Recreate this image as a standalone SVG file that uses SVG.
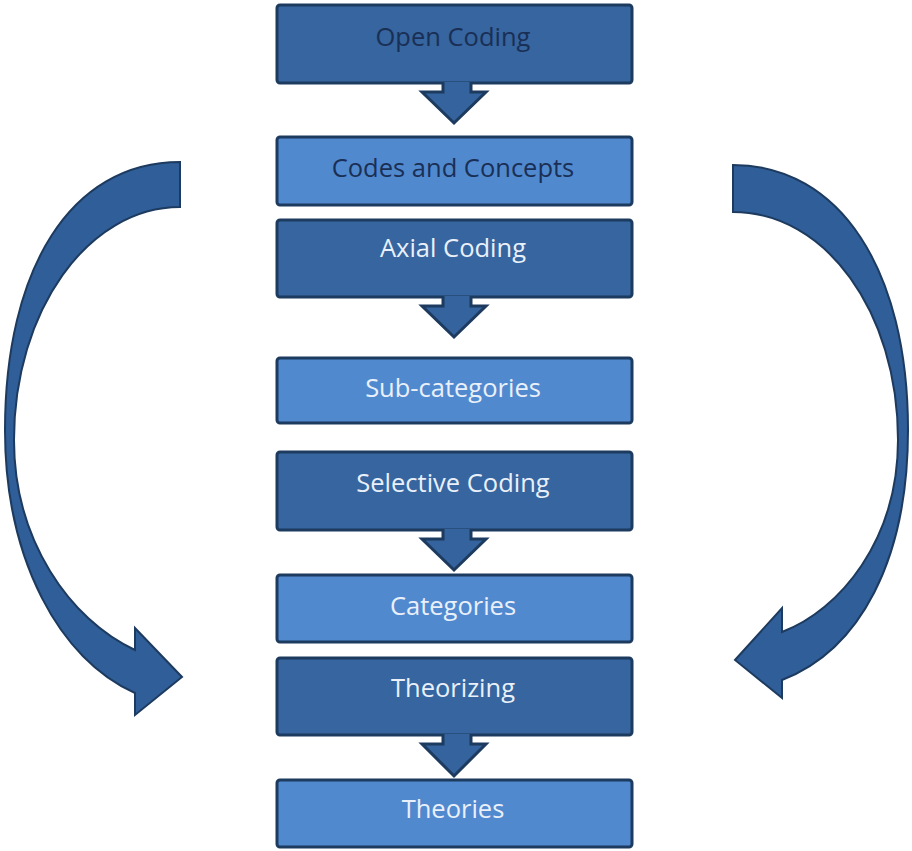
<svg xmlns="http://www.w3.org/2000/svg" width="912" height="851" viewBox="0 0 912 851">
<style>
.dark{fill:#36659f;stroke:#1d3a5f;stroke-width:3}
.light{fill:#5189cf;stroke:#1d3a5f;stroke-width:3}
.arr{fill:#35639d;stroke:#1d3a5f;stroke-width:3;stroke-linejoin:miter}
.curve{fill:#2f5e98;stroke:#1d3a5f;stroke-width:2;stroke-linejoin:miter}
text{font-family:"Open Sans","Noto Sans",sans-serif;font-size:25.5px;text-anchor:middle}
.tdark{fill:#1a2f55}
.tlight{fill:#e9f0fa}
</style>
<rect width="912" height="851" fill="#ffffff"/>
<g id="connectors">
<path class="curve" d="M180,162 C70,162 5,270 5,430 C5,560 60,660 135,693 L135,715 L182,677 L135,628 L135,650 C70,620 14,540 14,440 C14,311 88,207 180,207 Z"/>
<path class="curve" d="M733,165 C840,165 908,270 908,430 C908,560 860,650 782,680 L782,698 L735,660 L782,608 L782,632 C840,610 898,540 898,440 C898,311 825,212 733,212 Z"/>
</g>
<g id="open-coding"><rect class="dark" x="277" y="5" width="355" height="78" rx="3"/><text class="tdark" x="453" y="46">Open Coding</text></g>
<g id="codes-concepts"><rect class="light" x="277" y="137" width="355" height="68" rx="3"/><text class="tdark" x="453" y="177">Codes and Concepts</text></g>
<g id="axial-coding"><rect class="dark" x="277" y="220" width="355" height="77" rx="3"/><text class="tlight" x="453" y="257">Axial Coding</text></g>
<g id="sub-categories"><rect class="light" x="277" y="358" width="355" height="65" rx="3"/><text class="tlight" x="453" y="397">Sub-categories</text></g>
<g id="selective-coding"><rect class="dark" x="277" y="452" width="355" height="78" rx="3"/><text class="tlight" x="453" y="492">Selective Coding</text></g>
<g id="categories"><rect class="light" x="277" y="575" width="355" height="67" rx="3"/><text class="tlight" x="453" y="615">Categories</text></g>
<g id="theorizing"><rect class="dark" x="277" y="658" width="355" height="77" rx="3"/><text class="tlight" x="453" y="697">Theorizing</text></g>
<g id="theories"><rect class="light" x="277" y="780" width="355" height="67" rx="3"/><text class="tlight" x="453" y="818">Theories</text></g>
<g id="down-arrows">
<path class="arr" d="M443,82 L443,92 L422,92 L454,123 L486,92 L471,92 L471,82"/>
<path class="arr" d="M443,296 L443,306 L422,306 L454,337 L486,306 L471,306 L471,296"/>
<path class="arr" d="M443,529 L443,539 L422,539 L454,570 L486,539 L471,539 L471,529"/>
<path class="arr" d="M443,734 L443,744 L422,744 L454,776 L486,744 L471,744 L471,734"/>
</g>
</svg>
